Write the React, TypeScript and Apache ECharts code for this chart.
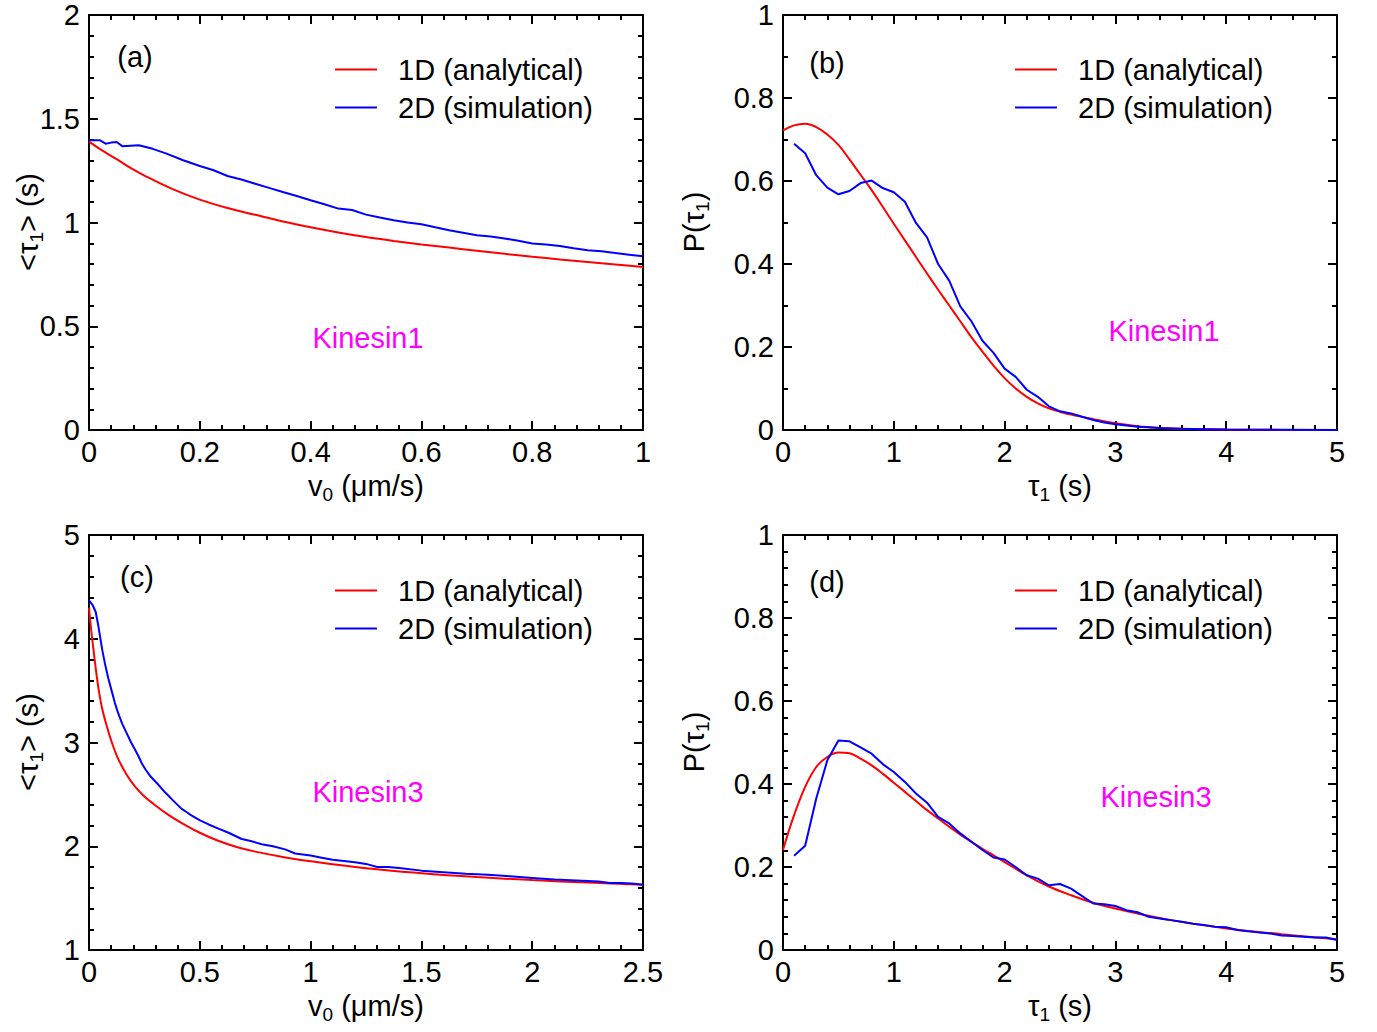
import React, { useEffect, useRef } from "react";
import * as echarts from "echarts";

const FONT = "'Liberation Sans', Arial, Helvetica, sans-serif";
const FS = 29;
const RED = "#ff0000";
const BLUE = "#0000ff";
const MAGENTA = "#ff00ff";
const NAME_1D = "1D (analytical)";
const NAME_2D = "2D (simulation)";

// Panel (a): <tau1> vs v0, Kinesin1
const a1D = [[0,1.39],[0.025,1.345],[0.05,1.305],[0.075,1.263],[0.1,1.226],[0.15,1.162],[0.2,1.11],[0.25,1.07],[0.3,1.037],[0.35,1.005],[0.4,0.977],[0.45,0.952],[0.5,0.93],[0.55,0.911],[0.6,0.894],[0.65,0.879],[0.7,0.864],[0.75,0.849],[0.8,0.835],[0.85,0.822],[0.9,0.81],[0.95,0.798],[1,0.786]];
const a2D = [[0,1.396],[0.02,1.396],[0.03,1.38],[0.04,1.385],[0.05,1.388],[0.06,1.368],[0.075,1.37],[0.09,1.372],[0.115,1.355],[0.14,1.332],[0.17,1.3],[0.2,1.272],[0.225,1.252],[0.25,1.224],[0.275,1.207],[0.3,1.187],[0.325,1.167],[0.35,1.147],[0.375,1.128],[0.4,1.107],[0.425,1.088],[0.45,1.067],[0.475,1.06],[0.5,1.038],[0.525,1.024],[0.55,1.011],[0.575,1.0],[0.6,0.992],[0.625,0.977],[0.65,0.963],[0.675,0.951],[0.7,0.939],[0.725,0.932],[0.75,0.923],[0.775,0.912],[0.8,0.899],[0.825,0.894],[0.85,0.887],[0.875,0.876],[0.9,0.866],[0.925,0.861],[0.95,0.853],[0.975,0.845],[1,0.837]];

// Panel (b): P(tau1), Kinesin1
const b1D = [[0,0.722],[0.1,0.734],[0.2,0.738],[0.3,0.73],[0.4,0.712],[0.5,0.687],[0.6,0.652],[0.7,0.615],[0.8,0.578],[0.9,0.538],[1.0,0.497],[1.1,0.457],[1.2,0.417],[1.3,0.377],[1.4,0.338],[1.5,0.3],[1.6,0.262],[1.7,0.224],[1.8,0.189],[1.9,0.155],[2.0,0.125],[2.1,0.1],[2.2,0.08],[2.3,0.064],[2.4,0.052],[2.5,0.044],[2.6,0.037],[2.8,0.026],[3.0,0.016],[3.2,0.009],[3.4,0.005],[3.6,0.003],[4.0,0.001],[4.5,0.0003],[5,0]];
const b2D = [[0.1,0.69],[0.2,0.667],[0.3,0.614],[0.4,0.584],[0.5,0.568],[0.6,0.576],[0.7,0.595],[0.8,0.601],[0.9,0.583],[1.0,0.573],[1.1,0.55],[1.2,0.499],[1.3,0.464],[1.4,0.4],[1.5,0.36],[1.6,0.298],[1.7,0.262],[1.8,0.215],[1.9,0.186],[2.0,0.148],[2.1,0.128],[2.2,0.097],[2.3,0.08],[2.4,0.057],[2.5,0.045],[2.6,0.04],[2.7,0.032],[2.8,0.024],[2.9,0.018],[3.0,0.014],[3.2,0.008],[3.4,0.005],[3.6,0.003],[3.8,0.002],[4.0,0.001],[4.5,0.0005],[5,0]];

// Panel (c): <tau1> vs v0, Kinesin3
const c1D = [[0,4.3],[0.01,4.08],[0.02,3.9],[0.03,3.72],[0.045,3.49],[0.06,3.32],[0.08,3.16],[0.1,3.02],[0.13,2.85],[0.17,2.69],[0.21,2.57],[0.25,2.48],[0.29,2.41],[0.36,2.3],[0.43,2.21],[0.5,2.13],[0.58,2.055],[0.67,1.99],[0.75,1.948],[0.88,1.895],[1.0,1.855],[1.25,1.788],[1.5,1.74],[1.75,1.703],[2.0,1.674],[2.25,1.65],[2.5,1.63]];
const c2D = [[0,4.37],[0.015,4.33],[0.03,4.26],[0.04,4.15],[0.05,4.02],[0.06,3.89],[0.072,3.76],[0.087,3.62],[0.102,3.5],[0.117,3.38],[0.132,3.28],[0.15,3.18],[0.17,3.09],[0.19,3.0],[0.208,2.93],[0.225,2.86],[0.238,2.8],[0.255,2.74],[0.275,2.68],[0.31,2.6],[0.343,2.52],[0.38,2.44],[0.418,2.36],[0.44,2.33],[0.46,2.3],[0.501,2.25],[0.54,2.21],[0.584,2.17],[0.63,2.13],[0.689,2.07],[0.73,2.05],[0.779,2.02],[0.83,2.0],[0.885,1.97],[0.93,1.93],[1.0,1.91],[1.05,1.89],[1.1,1.87],[1.2,1.845],[1.25,1.83],[1.3,1.8],[1.35,1.8],[1.4,1.79],[1.5,1.765],[1.6,1.75],[1.7,1.735],[1.8,1.725],[1.9,1.71],[2.0,1.695],[2.1,1.68],[2.2,1.67],[2.3,1.66],[2.35,1.645],[2.4,1.645],[2.45,1.64],[2.5,1.63]];

// Panel (d): P(tau1), Kinesin3
const d1D = [[0,0.241],[0.1,0.325],[0.2,0.393],[0.3,0.441],[0.4,0.465],[0.5,0.476],[0.6,0.474],[0.7,0.461],[0.8,0.445],[0.9,0.425],[1.0,0.403],[1.1,0.381],[1.2,0.359],[1.3,0.337],[1.4,0.317],[1.5,0.297],[1.6,0.278],[1.7,0.261],[1.8,0.244],[1.9,0.228],[2.0,0.212],[2.2,0.18],[2.4,0.153],[2.6,0.132],[2.8,0.114],[3.0,0.1],[3.2,0.088],[3.5,0.072],[4.0,0.052],[4.5,0.038],[5.0,0.026]];
const d2D = [[0.1,0.227],[0.2,0.251],[0.3,0.365],[0.4,0.457],[0.5,0.505],[0.6,0.503],[0.7,0.488],[0.8,0.473],[0.9,0.448],[1.0,0.429],[1.1,0.405],[1.2,0.377],[1.3,0.355],[1.4,0.321],[1.5,0.305],[1.6,0.281],[1.7,0.261],[1.8,0.241],[1.9,0.223],[2.0,0.218],[2.1,0.2],[2.2,0.18],[2.3,0.172],[2.4,0.156],[2.5,0.159],[2.6,0.148],[2.7,0.13],[2.8,0.112],[2.9,0.11],[3.0,0.106],[3.1,0.096],[3.2,0.091],[3.3,0.08],[3.4,0.076],[3.5,0.072],[3.6,0.068],[3.7,0.063],[3.8,0.06],[3.9,0.056],[4.0,0.055],[4.1,0.048],[4.2,0.045],[4.3,0.042],[4.4,0.04],[4.5,0.035],[4.6,0.034],[4.7,0.032],[4.8,0.03],[4.9,0.03],[5.0,0.024]];

const panelLetters = ["(a)", "(b)", "(c)", "(d)"];
const motorLabels = ["Kinesin1", "Kinesin1", "Kinesin3", "Kinesin3"];
const xNames = ["v{sub|0} (\u03bcm/s)", "\u03c4{sub|1} (s)", "v{sub|0} (\u03bcm/s)", "\u03c4{sub|1} (s)"];
const yNames = ["<\u03c4{sub|1}> (s)", "P(\u03c4{sub|1})", "<\u03c4{sub|1}> (s)", "P(\u03c4{sub|1})"];

const xRanges = [[0, 1, 0.2, 5], [0, 5, 1, 5], [0, 2.5, 0.5, 5], [0, 5, 1, 5]];
const yRanges = [[0, 2, 0.5, 5], [0, 1, 0.2, 2], [1, 5, 1, 5], [0, 1, 0.2, 5]];
const curves1D = [a1D, b1D, c1D, d1D];
const curves2D = [a2D, b2D, c2D, d2D];

const grids = [
  { left: 89, top: 15, width: 554, height: 415 },
  { left: 783, top: 15, width: 554, height: 415 },
  { left: 89, top: 535, width: 554, height: 415 },
  { left: 783, top: 535, width: 554, height: 415 },
];
const letterPos = [[135, 57], [827, 63], [137, 577], [827, 582]];
const motorPos = [[368, 338], [1164, 331], [368, 792], [1156, 797]];
const xNamePos = [[366, 486], [1060, 486], [366, 1006], [1060, 1006]];
const yNamePos = [[28, 222], [694, 222], [28, 742], [694, 742]];
const legendPos = [[335, 55], [1015, 55], [335, 576], [1015, 576]];

function axisCommon(range: number[], showLabel: boolean, margin: number) {
  return {
    type: "value",
    min: range[0],
    max: range[1],
    interval: range[2],
    axisLine: { show: true, onZero: false, lineStyle: { color: "#000", width: 2 } },
    axisTick: { show: true, inside: true, length: 9, lineStyle: { color: "#000", width: 2 } },
    minorTick: { show: true, splitNumber: range[3], length: 5, lineStyle: { color: "#000", width: 2 } },
    splitLine: { show: false },
    minorSplitLine: { show: false },
    axisLabel: { show: showLabel, color: "#000", fontSize: FS, fontFamily: FONT, margin },
  };
}

function richText(x: number, y: number, text: string, rotation = 0) {
  return {
    type: "text",
    x,
    y,
    rotation,
    style: {
      text,
      fontSize: FS,
      fontFamily: FONT,
      fill: "#000",
      align: "center",
      verticalAlign: "middle",
      lineHeight: 36,
      rich: {
        sub: { fontSize: 19, fontFamily: FONT, fill: "#000", lineHeight: 19, verticalAlign: "bottom" },
      },
    },
  };
}

export default function App() {
  const ref = useRef<HTMLDivElement>(null);
  useEffect(() => {
    document.body.style.margin = "0";
    const chart = echarts.init(ref.current!, null, { renderer: "svg" });
    const xAxis: any[] = [];
    const yAxis: any[] = [];
    const series: any[] = [];
    const legend: any[] = [];
    const graphic: any[] = [];
    for (let i = 0; i < 4; i++) {
      xAxis.push({ ...axisCommon(xRanges[i], true, 7), gridIndex: i, position: "bottom" });
      xAxis.push({ ...axisCommon(xRanges[i], false, 7), gridIndex: i, position: "top" });
      yAxis.push({ ...axisCommon(yRanges[i], true, 9), gridIndex: i, position: "left" });
      yAxis.push({ ...axisCommon(yRanges[i], false, 9), gridIndex: i, position: "right" });
      series.push({
        name: NAME_1D,
        type: "line",
        xAxisIndex: 2 * i,
        yAxisIndex: 2 * i,
        data: curves1D[i],
        showSymbol: false,
        smooth: 0.4,
        color: RED,
        lineStyle: { color: RED, width: 2 },
      });
      series.push({
        name: NAME_2D,
        type: "line",
        xAxisIndex: 2 * i,
        yAxisIndex: 2 * i,
        data: curves2D[i],
        showSymbol: false,
        color: BLUE,
        lineStyle: { color: BLUE, width: 2 },
      });
      legend.push({
        left: legendPos[i][0],
        top: legendPos[i][1],
        orient: "vertical",
        selectedMode: false,
        icon: "rect",
        itemWidth: 42,
        itemHeight: 2,
        itemGap: 9,
        padding: 0,
        data: [NAME_1D, NAME_2D],
        textStyle: { fontSize: FS, fontFamily: FONT, color: "#000", padding: [0, 0, 0, 16] },
      });
      graphic.push({
        type: "text",
        x: letterPos[i][0],
        y: letterPos[i][1],
        style: { text: panelLetters[i], fontSize: FS, fontFamily: FONT, fill: "#000", align: "center", verticalAlign: "middle" },
      });
      graphic.push({
        type: "text",
        x: motorPos[i][0],
        y: motorPos[i][1],
        style: { text: motorLabels[i], fontSize: FS, fontFamily: FONT, fill: MAGENTA, align: "center", verticalAlign: "middle" },
      });
      graphic.push(richText(xNamePos[i][0], xNamePos[i][1], xNames[i]));
      graphic.push(richText(yNamePos[i][0], yNamePos[i][1], yNames[i], Math.PI / 2));
    }
    chart.setOption({
      animation: false,
      backgroundColor: "#fff",
      textStyle: { fontFamily: FONT },
      grid: grids,
      xAxis,
      yAxis,
      series,
      legend,
      graphic,
    });
    return () => chart.dispose();
  }, []);
  return <div ref={ref} style={{ width: 1377, height: 1032 }} />;
}
